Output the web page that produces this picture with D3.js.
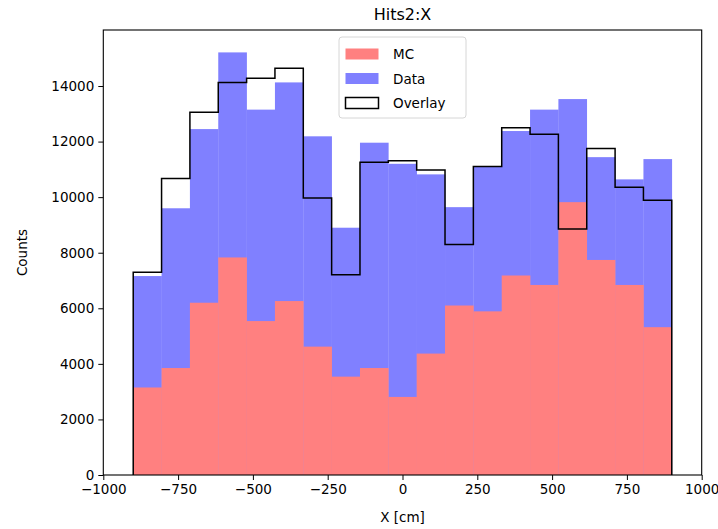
<!DOCTYPE html>
<html>
<head>
<meta charset="utf-8">
<script src="https://cdn.jsdelivr.net/npm/d3@7"></script>
<style>
  html, body { margin: 0; padding: 0; background: #fff; }
  text { font-family: "DejaVu Sans", sans-serif; }
</style>
</head>
<body>
<div id="chart"></div>
<script>
// bin edges (19 equal bins between -900 and 900)
const binEdges = [-900, -805.26, -710.53, -615.79, -521.05, -426.32, -331.58, -236.84, -142.11, -47.37,
  47.37, 142.11, 236.84, 331.58, 426.32, 521.05, 615.79, 710.53, 805.26, 900];
const mcCounts = [3150, 3850, 6200, 7830, 5540, 6260, 4620, 3540, 3850, 2810,
  4370, 6100, 5890, 7180, 6840, 9820, 7740, 6840, 5320];
const dataCounts = [7160, 9600, 12450, 15210, 13150, 14130, 12190, 8900, 11960, 11200,
  10820, 9640, 11100, 12380, 13150, 13530, 11440, 10640, 11370];
const overlayCounts = [7300, 10670, 13060, 14130, 14280, 14640, 9970, 7210, 11260, 11310,
  10980, 8300, 11100, 12500, 12260, 8850, 11750, 10360, 9890];
const xTicks = [-1000, -750, -500, -250, 0, 250, 500, 750, 1000];
const yTicks = [0, 2000, 4000, 6000, 8000, 10000, 12000, 14000];

const W = 718, H = 529;
const margin = { top: 30, right: 16.3, bottom: 54, left: 103.3 };
const width = W - margin.left - margin.right,
  height = H - margin.top - margin.bottom;

const svg = d3.select('#chart').append('svg')
  .attr('width', W).attr('height', H);

const g = svg.append('g')
  .attr('transform', `translate(${margin.left},${margin.top})`);

const x = d3.scaleLinear().domain([-1000, 1000]).range([0, width]);
const y = d3.scaleLinear()
  .domain([0, d3.max(dataCounts.concat(mcCounts, overlayCounts)) * 1.053])
  .range([height, 0]);

const bins = (vals) => vals.map((v, i) => ({ x0: binEdges[i], x1: binEdges[i + 1], v }));

// data histogram
g.append('g').selectAll('rect')
  .data(bins(dataCounts))
  .enter().append('rect')
  .attr('x', d => x(d.x0))
  .attr('width', d => x(d.x1) - x(d.x0) + 0.3)
  .attr('y', d => y(d.v))
  .attr('height', d => y(0) - y(d.v))
  .attr('fill', '#8080ff');

// MC histogram
g.append('g').selectAll('rect')
  .data(bins(mcCounts))
  .enter().append('rect')
  .attr('x', d => x(d.x0))
  .attr('width', d => x(d.x1) - x(d.x0) + 0.3)
  .attr('y', d => y(d.v))
  .attr('height', d => y(0) - y(d.v))
  .attr('fill', '#ff8080');

// overlay step outline
const pts = [[binEdges[0], 0]];
overlayCounts.forEach((v, i) => {
  pts.push([binEdges[i], v]);
  pts.push([binEdges[i + 1], v]);
});
pts.push([binEdges[binEdges.length - 1], 0]);

g.append('path')
  .datum(pts)
  .attr('fill', 'none')
  .attr('stroke', '#000')
  .attr('stroke-width', 1.5)
  .attr('stroke-linejoin', 'miter')
  .attr('d', d3.line().x(d => x(d[0])).y(d => y(d[1])));

// axes
const fmt = d => (d < 0 ? '\u2212' + Math.abs(d) : String(d));
const xAxis = g.append('g')
  .attr('transform', `translate(0,${height})`)
  .call(d3.axisBottom(x).tickValues(xTicks).tickFormat(fmt).tickSize(5).tickPadding(4));
const yAxis = g.append('g')
  .call(d3.axisLeft(y).tickValues(yTicks).tickFormat(fmt).tickSize(5).tickPadding(4));

[xAxis, yAxis].forEach(a => {
  a.select('.domain').remove();
  a.selectAll('text').attr('font-size', '13.5px').attr('fill', '#000')
    .style('font-family', '"DejaVu Sans", sans-serif');
  a.selectAll('line').attr('stroke', '#000').attr('stroke-width', 1);
});

// frame
g.append('rect')
  .attr('width', width).attr('height', height)
  .attr('fill', 'none').attr('stroke', '#000').attr('stroke-width', 1.1);

// title and labels
svg.append('text')
  .attr('x', margin.left + width / 2).attr('y', 20)
  .attr('text-anchor', 'middle').attr('font-size', '16px')
  .text('Hits2:X');

svg.append('text')
  .attr('x', margin.left + width / 2).attr('y', 522)
  .attr('text-anchor', 'middle').attr('font-size', '13.5px')
  .text('X [cm]');

svg.append('text')
  .attr('transform', `translate(27,${margin.top + height / 2}) rotate(-90)`)
  .attr('text-anchor', 'middle').attr('font-size', '13.5px')
  .text('Counts');

// legend
const legendItems = [
  { label: 'MC', fill: '#ff8080', stroke: 'none' },
  { label: 'Data', fill: '#8080ff', stroke: 'none' },
  { label: 'Overlay', fill: '#fff', stroke: '#000' }
];
const legend = svg.append('g').attr('transform', 'translate(339,37)');
legend.append('rect')
  .attr('width', 127).attr('height', 81).attr('rx', 3)
  .attr('fill', '#fff').attr('fill-opacity', 0.8)
  .attr('stroke', '#d6d6d6').attr('stroke-width', 1);
legendItems.forEach((it, i) => {
  const row = legend.append('g').attr('transform', `translate(0,${i * 24.5})`);
  row.append('rect')
    .attr('x', 6.5).attr('y', 11.5).attr('width', 33).attr('height', 11)
    .attr('fill', it.fill).attr('stroke', it.stroke).attr('stroke-width', 1.5);
  row.append('text')
    .attr('x', 54).attr('y', 22)
    .attr('font-size', '13.5px')
    .text(it.label);
});
</script>
</body>
</html>
